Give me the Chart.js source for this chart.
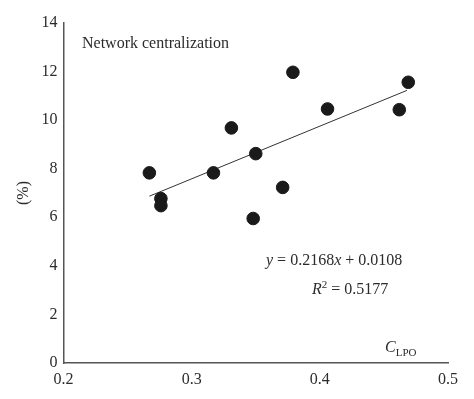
<!DOCTYPE html>
<html lang="en">
<head>
<meta charset="UTF-8">
<title>Network centralization</title>
<script src="https://cdn.jsdelivr.net/npm/chart.js"></script>
<style>
  html, body { margin: 0; padding: 0; background: #fff; }
  #wrap { width: 474px; height: 399px; }
</style>
</head>
<body>
<div id="wrap"><canvas id="chart"></canvas></div>
<script>
// data
const cLpo = [0.267, 0.276, 0.276, 0.317, 0.331, 0.350, 0.371, 0.348, 0.379, 0.406, 0.462, 0.469];
const centralization = [7.83, 6.77, 6.48, 7.83, 9.68, 8.62, 7.23, 5.95, 11.97, 10.46, 10.43, 11.56];
const xTicks = [0.2, 0.3, 0.4, 0.5];
const yTicks = [0, 2, 4, 6, 8, 10, 12, 14];
// regression line as printed on the figure (y in %, so *100)
const slope = 0.2168, intercept = 0.0108;
const fitRange = [0.267, 0.468];

const fitLine = fitRange.map(x => ({ x: x, y: (slope * x + intercept) * 100 }));

const serif = '"Liberation Serif", "DejaVu Serif", serif';
const ink = '#2b2b2b';

// draws a row of text pieces with their own fonts
function drawRich(ctx, x, y, parts) {
    let cx = x;
    parts.forEach(p => {
        ctx.font = p.font;
        ctx.fillText(p.text, cx, y + (p.dy || 0));
        cx += ctx.measureText(p.text).width;
    });
}

const notes = {
    id: 'notes',
    afterDraw(chart) {
        const ctx = chart.ctx;
        ctx.save();
        ctx.fillStyle = ink;
        ctx.textBaseline = 'alphabetic';
        ctx.textAlign = 'left';
        ctx.font = '16px ' + serif;
        ctx.fillText('Network centralization', 82, 48);

        const r = '16px ' + serif, it = 'italic 16px ' + serif;
        drawRich(ctx, 266, 265, [
            { text: 'y', font: it },
            { text: ' = 0.2168', font: r },
            { text: 'x', font: it },
            { text: ' + 0.0108', font: r }
        ]);
        drawRich(ctx, 312, 294, [
            { text: 'R', font: it },
            { text: '2', font: '11px ' + serif, dy: -6 },
            { text: ' = 0.5177', font: r }
        ]);
        drawRich(ctx, 385, 352, [
            { text: 'C', font: it },
            { text: 'LPO', font: '11px ' + serif, dy: 4 }
        ]);
        ctx.restore();
    }
};

const ctx = document.getElementById('chart').getContext('2d');
new Chart(ctx, {
    type: 'scatter',
    data: {
        datasets: [
            {
                label: 'Network centralization',
                data: cLpo.map((x, i) => ({ x: x, y: centralization[i] })),
                backgroundColor: '#1a1a1a',
                borderColor: '#1a1a1a',
                pointRadius: 6.3,
                pointHoverRadius: 6.3
            },
            {
                label: 'fit',
                data: fitLine,
                showLine: true,
                borderColor: '#333',
                borderWidth: 1,
                pointRadius: 0
            }
        ]
    },
    options: {
        responsive: true,
        maintainAspectRatio: false,
        animation: false,
        layout: { padding: { top: 23, right: 26, left: 0, bottom: 0 } },
        plugins: { legend: { display: false }, tooltip: { enabled: false } },
        scales: {
            x: {
                type: 'linear',
                min: 0.2, max: 0.5,
                afterBuildTicks: s => { s.ticks = xTicks.map(v => ({ value: v })); },
                afterFit: s => { s.height = 36; },
                grid: { display: false, drawTicks: false },
                border: { color: '#555', width: 1.5 },
                ticks: {
                    padding: 7,
                    color: ink,
                    font: { family: serif, size: 16 },
                    callback: v => v.toFixed(1)
                }
            },
            y: {
                min: 0, max: 14,
                afterBuildTicks: s => { s.ticks = yTicks.map(v => ({ value: v })); },
                afterFit: s => { s.width = 63.5; },
                grid: { display: false, drawTicks: false },
                border: { color: '#555', width: 1.5 },
                title: {
                    display: true,
                    text: '(%)',
                    color: ink,
                    font: { family: serif, size: 16 },
                    padding: { top: 14, bottom: 0 }
                },
                ticks: {
                    padding: 6,
                    color: ink,
                    font: { family: serif, size: 16 }
                }
            }
        }
    },
    plugins: [notes]
});
</script>
</body>
</html>
